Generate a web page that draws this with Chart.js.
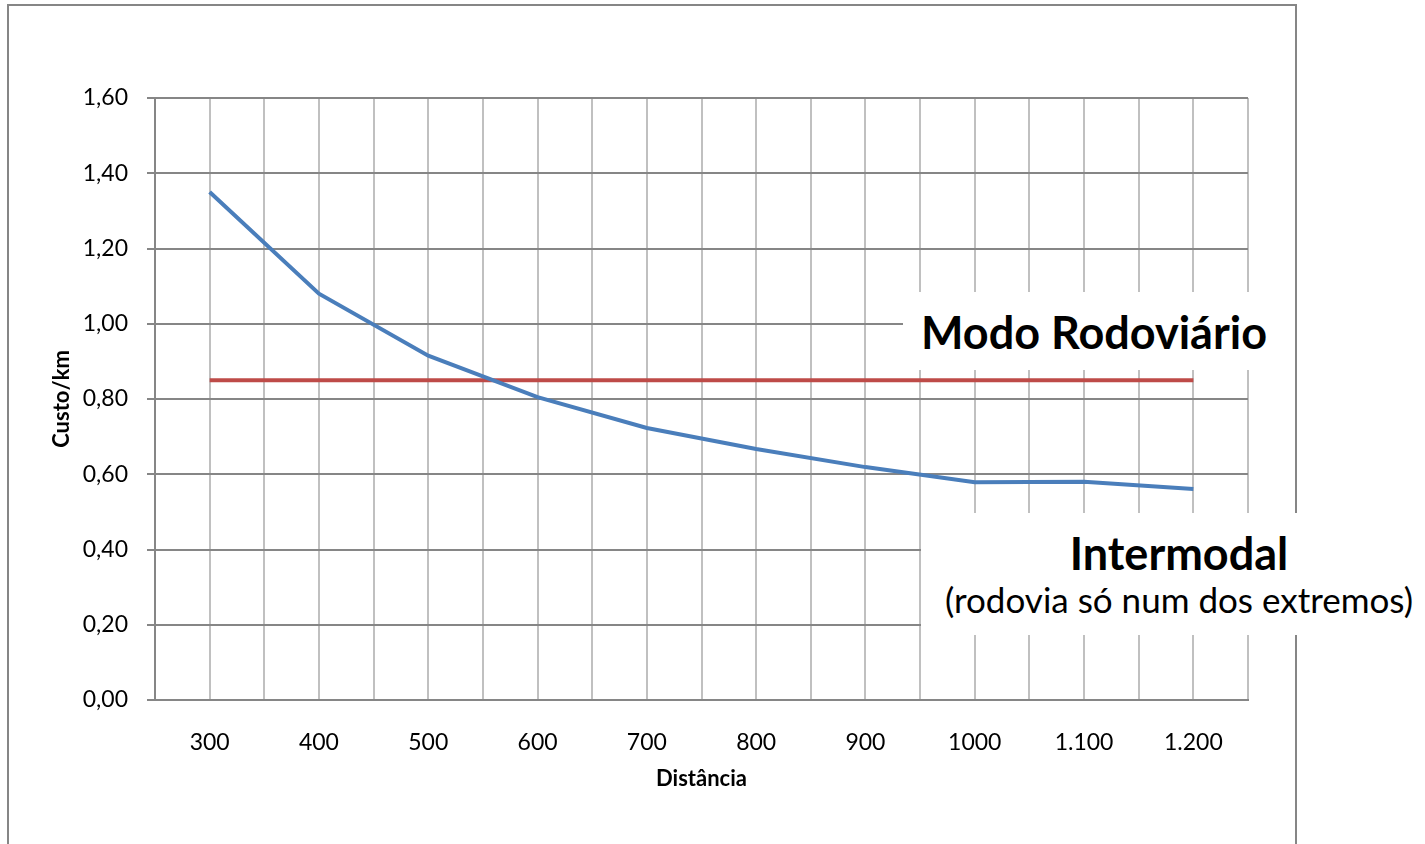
<!DOCTYPE html>
<html>
<head>
<meta charset="utf-8">
<script src="https://cdn.jsdelivr.net/npm/chart.js@4"></script>
<style>
  html, body { margin: 0; padding: 0; background: #fff; overflow: hidden; }
  #wrap { position: relative; width: 1425px; height: 844px; }
  #frame { position: absolute; left: 7px; top: 4px; width: 1286px; height: 900px; border: 2px solid #868686; }
  #chartBox { position: absolute; left: 0; top: 0; width: 1425px; height: 844px; }
  .label { position: absolute; background: #fff; text-align: center; font-family: Lato, "Open Sans", sans-serif; color: #000; }
  #modo { left: 903px; top: 292px; width: 382px; height: 78px; font-weight: bold; font-size: 45px; line-height: 80px; }
  #inter { left: 921px; top: 513px; width: 516px; height: 122px; }
  #inter .t1 { font-weight: bold; font-size: 45px; line-height: 46px; margin-top: 17px; }
  #inter .t2 { font-size: 35px; line-height: 40px; margin-top: 3px; }
</style>
</head>
<body>
<div id="wrap">
  <div id="frame"></div>
  <div id="chartBox"><canvas id="costChart"></canvas></div>
  <div class="label" id="modo">Modo Rodoviário</div>
  <div class="label" id="inter">
    <div class="t1">Intermodal</div>
    <div class="t2">(rodovia só num dos extremos)</div>
  </div>
</div>
<script>
// Distância (categorias) e custo/km
const distancias = ['300', '400', '500', '600', '700', '800', '900', '1000', '1.100', '1.200'];
const custoIntermodal = [1.35, 1.08, 0.915, 0.805, 0.723, 0.667, 0.619, 0.579, 0.58, 0.561];
const custoRodoviario = [0.85, 0.85, 0.85, 0.85, 0.85, 0.85, 0.85, 0.85, 0.85, 0.85];

const fontFamily = 'Lato, "Open Sans", sans-serif';

const ctx = document.getElementById('costChart').getContext('2d');
new Chart(ctx, {
    type: 'line',
    data: {
        labels: distancias,
        datasets: [{
            label: 'Intermodal',
            data: custoIntermodal,
            borderColor: '#4a7ebb',
            borderWidth: 4,
            pointRadius: 0,
            tension: 0,
            fill: false
        }, {
            label: 'Modo Rodoviário',
            data: custoRodoviario,
            borderColor: '#be4b48',
            borderWidth: 4,
            pointRadius: 0,
            tension: 0,
            fill: false
        }]
    },
    options: {
        responsive: true,
        maintainAspectRatio: false,
        animation: false,
        layout: { padding: { left: 0, top: 98, right: 177, bottom: 0 } },
        plugins: {
            legend: { display: false },
            tooltip: { enabled: false }
        },
        scales: {
            x: {
                offset: true,
                grid: { display: false },
                border: { color: '#868686', width: 2 },
                ticks: { color: '#000', font: { family: fontFamily, size: 23 }, padding: 21, maxRotation: 0 },
                title: {
                    display: true,
                    text: 'Distância',
                    color: '#000',
                    font: { family: fontFamily, size: 22, weight: 'bold' },
                    padding: { top: 0, bottom: 52 }
                },
                afterFit: function(scale) { scale.height = 144; }
            },
            // extra axis only for the vertical grid (category centres and boundaries)
            xg: {
                type: 'linear',
                position: 'top',
                min: 0,
                max: 20,
                ticks: { display: false, stepSize: 1 },
                grid: { color: '#c0c0c0', lineWidth: 2, drawTicks: false },
                border: { display: false },
                afterFit: function(scale) { scale.height = 0; }
            },
            y: {
                min: 0,
                max: 1.6,
                ticks: {
                    stepSize: 0.2,
                    color: '#000',
                    font: { family: fontFamily, size: 23 },
                    padding: 19,
                    callback: function(v) { return v.toFixed(2).replace('.', ','); }
                },
                grid: { color: '#868686', lineWidth: 2, tickLength: 8 },
                border: { color: '#868686', width: 2 },
                title: {
                    display: true,
                    text: 'Custo/km',
                    color: '#000',
                    font: { family: fontFamily, size: 22, weight: 'bold' },
                    padding: { top: 49, bottom: 0 }
                },
                afterFit: function(scale) { scale.width = 155; }
            }
        }
    }
});
</script>
</body>
</html>
